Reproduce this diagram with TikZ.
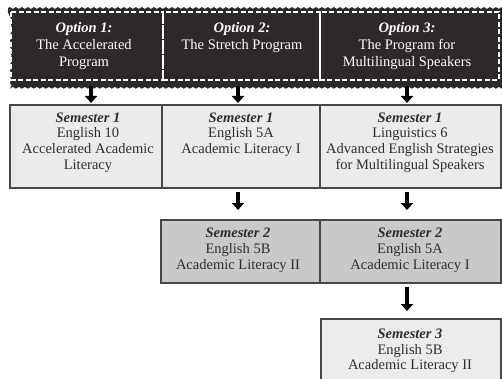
\documentclass[tikz,border=0pt]{standalone}
\usepackage{fontspec}
\setmainfont{Liberation Serif}
\usetikzlibrary{arrows.meta,decorations.pathmorphing,calc}
\definecolor{darkfill}{HTML}{2D2929}
\definecolor{boxborder}{HTML}{474747}
\definecolor{txtgray}{HTML}{2E2E2E}
\definecolor{semonefill}{HTML}{EBEBEB}
\definecolor{semtwofill}{HTML}{C9C9C9}
\definecolor{semthreefill}{HTML}{ECECEC}
\begin{document}
\begin{tikzpicture}[x=1pt,y=-1pt,
  semtext/.style={align=center,font=\fontsize{14.5}{15.7}\selectfont,text=txtgray,inner sep=0pt,anchor=north},
  opttext/.style={align=center,font=\fontsize{14.5}{16.8}\selectfont,text=white,inner sep=0pt,anchor=north},
  sembox/.style={draw=boxborder,line width=2pt,inner sep=0pt,outer sep=0pt,anchor=north west},
  optbox/.style={inner sep=0pt,outer sep=0pt,anchor=north west},
  dashbox/.style={draw=white,dash pattern=on 5pt off 2.5pt,line width=1.4pt},
  bigarrow/.style={line width=4.5pt,-{Triangle[width=12pt,length=7pt]}},
  wavy/.style={decorate,decoration={snake,amplitude=0.9pt,segment length=6pt}}
]
\useasboundingbox (0,0) rectangle (502,379);
\clip (0,0) rectangle (502,379);

% top option boxes
\fill[darkfill,wavy] (8,8) -- (510,8) -- (510,85) -- (8,85) -- cycle;
\node[optbox,minimum width=155pt,minimum height=76pt] (o1) at (8,8) {};
\node[optbox,minimum width=157pt,minimum height=76pt] (o2) at (163,8) {};
\node[optbox,minimum width=186pt,minimum height=76pt] (o3) at (320,8) {};
\draw[dashbox] (11,12) rectangle (163,80);
\draw[dashbox] (163,12) rectangle (320,80);
\draw[dashbox] (320,12) rectangle (499,80);

\node[opttext] (t1) at (84,22.5) {\textbf{\textit{Option 1:}}\\The Accelerated\\Program};
\node[opttext] (t2) at (242,22.5) {\textbf{\textit{Option 2:}}\\The Stretch Program};
\node[opttext] (t3) at (407,22.5) {\textbf{\textit{Option 3:}}\\The Program for\\Multilingual Speakers};

% semester 1 row
\node[sembox,fill=semonefill,minimum width=152pt,minimum height=83pt] (s1a) at (10,105) {};
\node[sembox,fill=semonefill,minimum width=158pt,minimum height=83pt] (s1b) at (162,105) {};
\node[sembox,fill=semonefill,minimum width=181pt,minimum height=83pt] (s1c) at (320,105) {};
\node[semtext] (u1a) at (88,112.5) {\textbf{\textit{Semester 1}}\\English 10\\Accelerated Academic\\Literacy};
\node[semtext] (u1b) at (241,112.5) {\textbf{\textit{Semester 1}}\\English 5A\\Academic Literacy I};
\node[semtext] (u1c) at (410,112.5) {\textbf{\textit{Semester 1}}\\Linguistics 6\\Advanced English Strategies\\for Multilingual Speakers};

% semester 2 row
\node[sembox,fill=semtwofill,minimum width=159pt,minimum height=63pt] (s2b) at (161,220) {};
\node[sembox,fill=semtwofill,minimum width=181pt,minimum height=63pt] (s2c) at (320,220) {};
\node[semtext] (u2b) at (238,228) {\textbf{\textit{Semester 2}}\\English 5B\\Academic Literacy II};
\node[semtext] (u2c) at (410,228) {\textbf{\textit{Semester 2}}\\English 5A\\Academic Literacy I};

% semester 3
\node[sembox,fill=semthreefill,minimum width=180pt,minimum height=80pt] (s3c) at (321,319) {};
\node[semtext] (u3c) at (410,328.5) {\textbf{\textit{Semester 3}}\\English 5B\\Academic Literacy II};

% arrows
\coordinate (xa) at (91,0);
\coordinate (xb) at (238,0);
\coordinate (xc) at (407,0);
\draw[bigarrow,shorten <=2pt,shorten >=2pt] (o1.south -| xa) -- (s1a.north -| xa);
\draw[bigarrow,shorten <=2pt,shorten >=2pt] (o2.south -| xb) -- (s1b.north -| xb);
\draw[bigarrow,shorten <=2pt,shorten >=2pt] (o3.south -| xc) -- (s1c.north -| xc);
\draw[bigarrow,shorten <=4pt,shorten >=10pt] (s1b.south -| xb) -- (s2b.north -| xb);
\draw[bigarrow,shorten <=4pt,shorten >=10pt] (s1c.south -| xc) -- (s2c.north -| xc);
\draw[bigarrow,shorten <=4pt,shorten >=8pt] (s2c.south -| xc) -- (s3c.north -| xc);
\end{tikzpicture}
\end{document}
